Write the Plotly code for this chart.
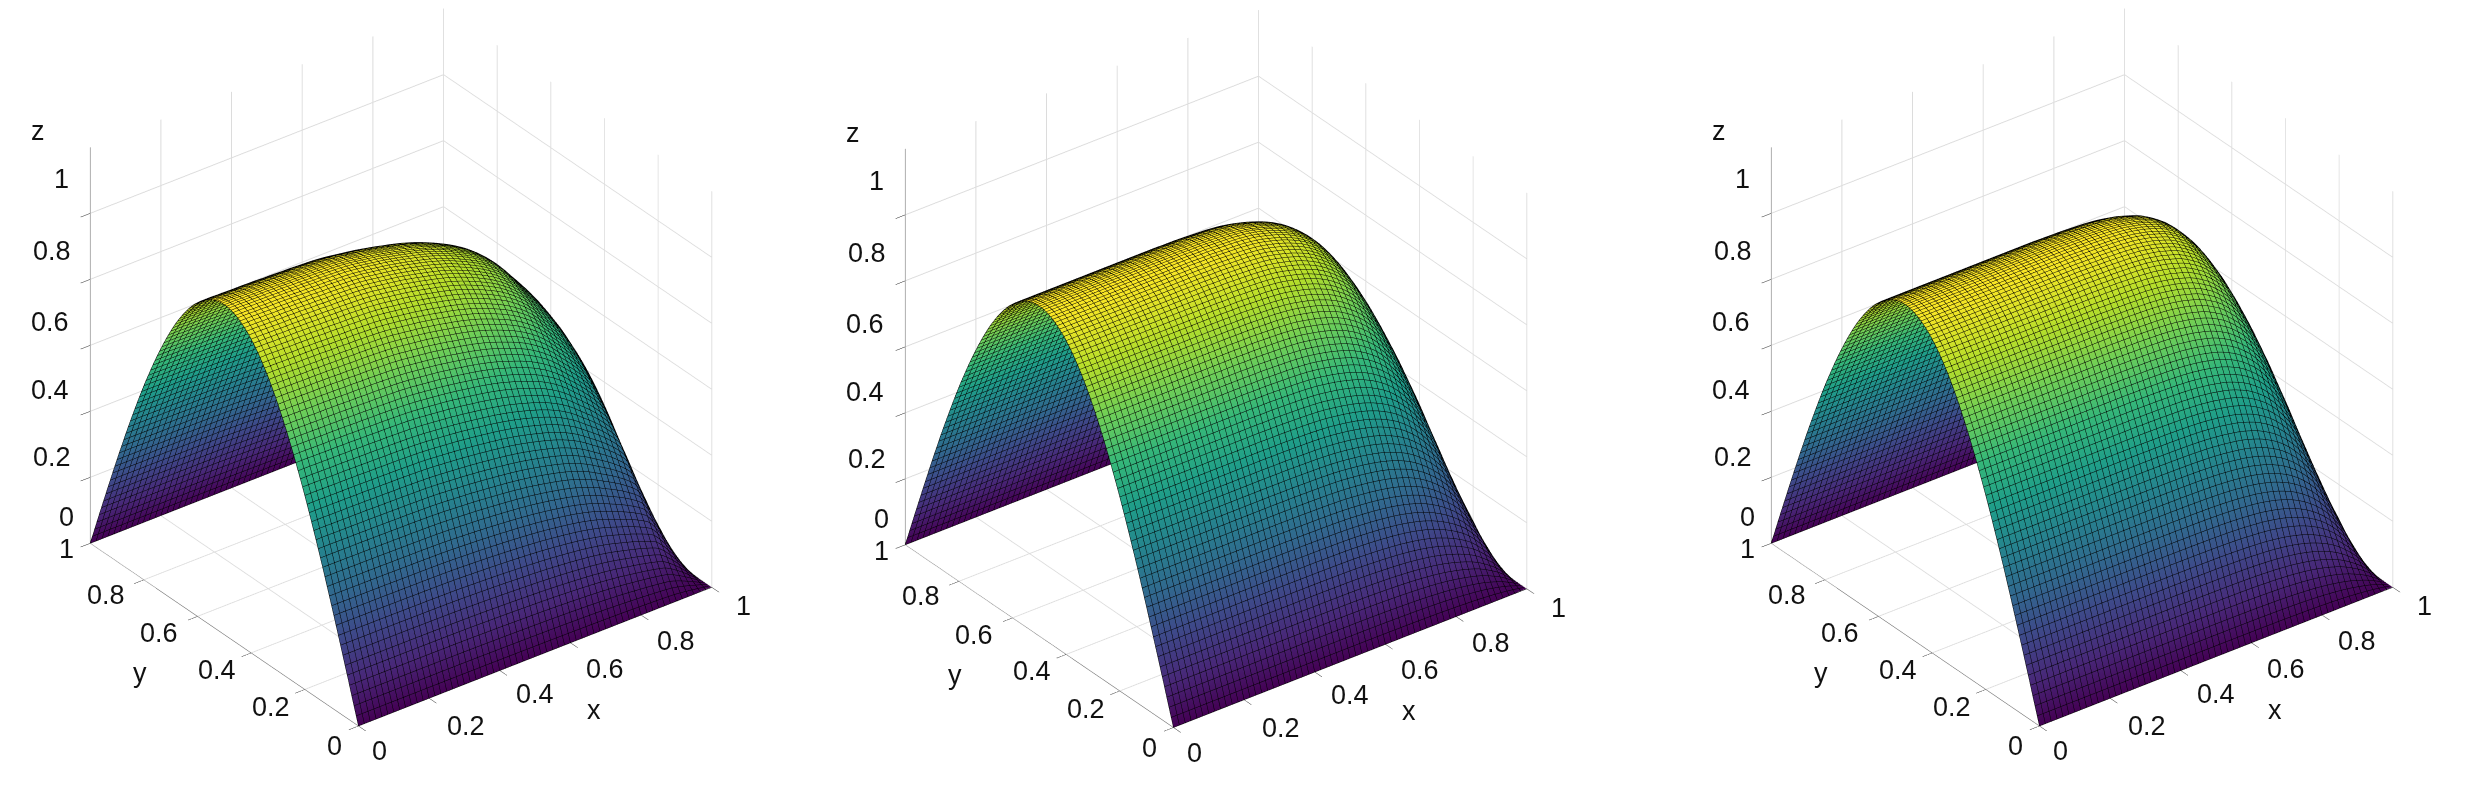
import plotly.graph_objects as go

x_nodes = [i / 60 for i in range(61)]
y_nodes = [i / 120 for i in range(121)]

arch_half = [0, .026, .052, .078, .105, .131, .156, .182, .208, .233, .259, .284, .309, .334, .358, .383, .407, .431,
             .454, .477, .5, .522, .545, .566, .588, .609, .629, .649, .669, .688, .707, .725, .743, .760, .777, .793,
             .809, .824, .839, .853, .866, .879, .891, .902, .914, .924, .934, .943, .951, .959, .966, .972, .978,
             .983, .988, .991, .995, .997, .999, 1.0, 1.0]
arch_y = arch_half + arch_half[-2::-1]

falloff_left = [1, 1, 1, .999, .999, .998, .998, .998, .997, .997, .996, .995, .995, .994, .993, .993, .992, .991,
                .99, .989, .987, .985, .982, .979, .976, .973, .97, .966, .962, .958, .953, .949, .944, .939, .933,
                .927, .92, .912, .904, .895, .886, .876, .865, .852, .838, .822, .804, .783, .76, .738, .715, .69,
                .662, .632, .595, .52, .43, .33, .22, .11, 0]
falloff_mid = [1] * 25 + [.999, .999, .999, .998, .997, .996, .995, .994, .992, .99, .987, .983, .978, .973, .967, .96,
                          .952, .943, .932, .919, .904, .887, .867, .843, .815, .783, .747, .706, .66, .605, .535, .455,
                          .37, .26, .135, 0]
falloff_right = [1] * 27 + [.999, .999, .998, .998, .997, .996, .995, .994, .992, .99, .987, .983, .979, .973, .967,
                            .96, .95, .938, .925, .908, .888, .866, .838, .806, .768, .725, .674, .613, .54, .46, .37,
                            .26, .135, 0]

tick_vals = [0, 0.2, 0.4, 0.6, 0.8, 1]
tick_text = ["0", "0.2", "0.4", "0.6", "0.8", "1"]

# label offsets from the axis tick, in pixels (dx, dy with y up)
z_shift = [(-24, 26), (-38, 20), (-40, 21), (-40, 23), (-38, 28), (-29, 34)]
y_shift = [(-24, -20), (-34, -18), (-34, -17), (-38, -17), (-38, -15), (-24, -6)]
x_shift = [(21, -25), (37, -28), (35, -23), (35, -26), (35, -26), (32, -19)]

W, H = 2490, 788
FONT = "Liberation Sans"
panels = [(falloff_left, 0, -0.1028), (falloff_mid, 815, -0.0983), (falloff_right, 1681, -0.1028)]
DIR = (-0.5176, -0.6818, 0.517)
D = 1.46


def label(x, y, z, text, shift):
    return dict(x=x, y=y, z=z, text=text, showarrow=False, xanchor="center", yanchor="middle",
                xshift=shift[0], yshift=shift[1], font=dict(family=FONT, size=27, color="#111111"))


fig = go.Figure()
layout = {}
for n, (f, left, cz) in enumerate(panels, start=1):
    name = "scene" if n == 1 else f"scene{n}"
    z = [[a * b for b in f] for a in arch_y]
    fig.add_trace(go.Surface(
        x=x_nodes, y=y_nodes, z=z, scene=name, colorscale="Viridis", cmin=0, cmax=1, showscale=False,
        lighting=dict(ambient=1, diffuse=0, specular=0, roughness=1, fresnel=0),
        contours=dict(
            x=dict(show=True, start=0, end=1, size=1 / 60, color="#000000", width=2),
            y=dict(show=True, start=0, end=1, size=1 / 120, color="#000000", width=2),
            z=dict(show=False),
        ),
        hoverinfo="skip",
    ))
    axis = dict(
        title=dict(text=""), tickmode="array", tickvals=tick_vals, ticktext=tick_text, showticklabels=False,
        ticks="outside", ticklen=12, tickcolor="#222222",
        tickwidth=1, showgrid=True, gridcolor="#dcdcdc", gridwidth=2, showline=True, linecolor="#555555",
        linewidth=1, zeroline=False, showbackground=False, showspikes=False,
    )
    notes = []
    for v, t, s in zip(tick_vals, tick_text, z_shift):
        notes.append(label(0, 1, v, t, s))
    for v, t, s in zip(tick_vals, tick_text, y_shift):
        notes.append(label(0, v, 0, t, s))
    for v, t, s in zip(tick_vals, tick_text, x_shift):
        notes.append(label(v, 0, 0, t, s))
    notes.append(label(0, 1, 1.2, "z", (-52, 16)))
    notes.append(label(0.6, 0, 0, "x", (24, -67)))
    notes.append(label(0, 0.6, 0, "y", (-57, -57)))
    layout[name] = dict(
        domain=dict(x=[left / W, (left + 786) / W], y=[0, 1]),
        xaxis=dict(axis, range=[0, 1]), yaxis=dict(axis, range=[0, 1]), zaxis=dict(axis, range=[0, 1.2]),
        aspectmode="manual", aspectratio=dict(x=1.126, y=1.126, z=1.174),
        camera=dict(
            projection=dict(type="orthographic"), up=dict(x=0, y=0, z=1),
            center=dict(x=0, y=0, z=cz),
            eye=dict(x=DIR[0] * D, y=DIR[1] * D, z=cz + DIR[2] * D),
        ),
        annotations=notes,
    )

fig.update_layout(width=W, height=H, margin=dict(l=0, r=0, t=0, b=0), paper_bgcolor="white",
                  showlegend=False, **layout)
fig.write_html("out.html")
